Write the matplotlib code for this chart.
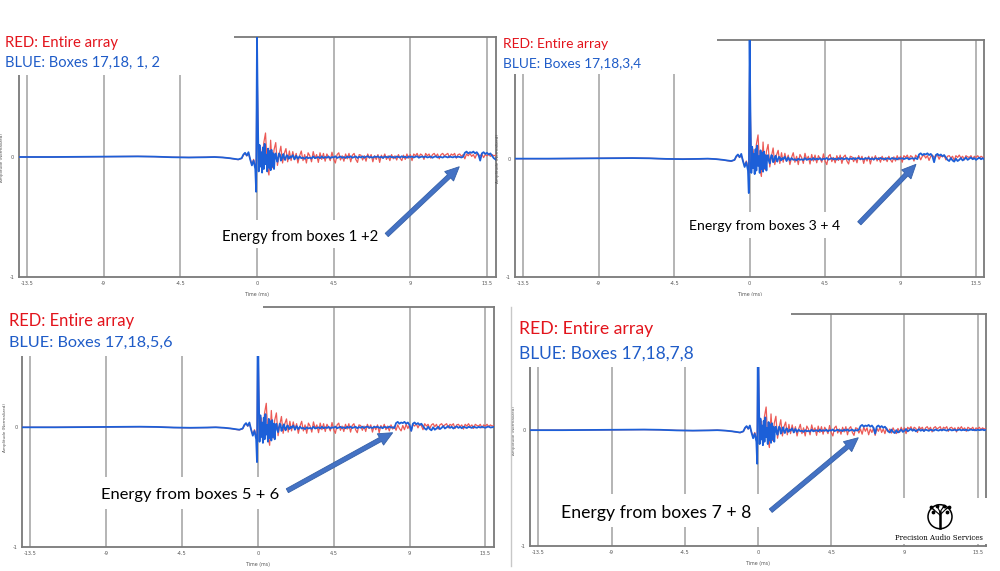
import numpy as np
import matplotlib
matplotlib.use("Agg")
import matplotlib.pyplot as plt
from matplotlib.patches import Rectangle, FancyArrow, Circle

# ---------------- data ----------------
t_pre = [-14.0, -12.0, -10.0, -8.0, -7.0, -6.0, -5.0, -4.0, -3.0, -2.5, -2.0, -1.6,
         -1.3, -1.1, -0.9, -0.8, -0.7, -0.6, -0.5, -0.4, -0.3, -0.2, -0.1, -0.05]
red_pre = [0.0, 0.0, 0.002, 0.004, 0.005, 0.003, -0.002, -0.004, -0.002, 0.0, -0.004, -0.01,
           -0.018, -0.022, -0.012, 0.015, 0.03, 0.01, 0.028, -0.015, -0.06, -0.02, -0.07, -0.12]
blue_pre = [0.0, 0.0, 0.002, 0.004, 0.005, 0.003, -0.002, -0.004, -0.002, 0.0, -0.004, -0.01,
            -0.016, -0.02, -0.01, 0.02, 0.035, 0.012, 0.04, -0.02, -0.07, -0.03, -0.1, -0.29]

# red: 0 .. 2 ms every 0.1 ms
red_early = [0.80, -0.10, 0.08, -0.06, 0.12, 0.20, -0.08, -0.15, 0.14, -0.09,
             0.06, 0.12, -0.07, 0.02, 0.09, -0.05, 0.03, 0.07, -0.04, 0.05, -0.03]
# blue: 0 .. 2 ms every 0.05 ms
blue_early = [1.00, 0.33, -0.12, 0.10, -0.08, 0.04, -0.13, 0.08, -0.10, 0.11,
              -0.06, 0.02, -0.12, 0.07, -0.09, 0.05, -0.11, 0.06, -0.08, 0.03,
              -0.10, 0.02, 0.03, -0.02, -0.04, 0.0, 0.03, 0.02, -0.03, -0.02,
              0.01, 0.025, -0.01, -0.025, 0.0, 0.015, 0.01, -0.015, -0.01, 0.005, -0.005]

# 2.1 .. 14.0 ms, every 0.1 ms
red_late = [0.045, -0.02, 0.03, -0.05, 0.01, 0.05, -0.03, 0.02, -0.05, 0.035,
            0.01, -0.04, 0.045, -0.01, 0.02, -0.045, 0.035, -0.02, 0.03, -0.035,
            0.025, 0.0, -0.03, 0.04, -0.02, -0.05, 0.02, 0.035, -0.025, 0.01,
            -0.035, 0.025, -0.015, 0.03, -0.04, 0.015, 0.03, -0.02, -0.045, 0.02,
            0.015, -0.025, 0.01, -0.035, 0.025, -0.01, 0.02, -0.04, 0.01, -0.02,
            0.02, -0.045, 0.015, -0.01, 0.025, -0.02, 0.01, -0.03, 0.02, -0.015,
            0.01, -0.025, 0.02, -0.01, -0.03, 0.015, -0.02, 0.025, -0.01, 0.02,
            -0.03, 0.025, 0.01, 0.03, -0.005, 0.025, 0.015, -0.02, 0.03, 0.01,
            0.025, -0.01, 0.02, 0.03, 0.005, 0.025, -0.015, 0.02, 0.03, 0.01,
            0.02, 0.03, -0.005, 0.025, 0.015, 0.03, -0.01, 0.02, 0.025, 0.005,
            0.02, -0.015, 0.025, 0.01, 0.03, 0.005, 0.02, -0.01, 0.025, 0.015,
            0.01, 0.025, -0.005, 0.02, 0.01, 0.025, 0.005, 0.02, 0.01, 0.015]
blue_quiet = [0.015, -0.02, 0.01, -0.015, 0.005, -0.01, -0.005, -0.015, 0.0, -0.01,
              -0.005, -0.012, 0.005, -0.01, -0.005, 0.0, -0.01, 0.005, -0.008, 0.0,
              -0.006, 0.004, -0.01, 0.0, -0.004, 0.006, -0.008, -0.002, 0.004, -0.006,
              0.0, -0.008, 0.004, -0.004, 0.006, -0.006, 0.0, 0.005, -0.008, 0.002,
              -0.004, 0.005, -0.006, 0.002, 0.006, -0.004, 0.0, -0.006, 0.004, 0.0,
              0.005, -0.005, 0.002, -0.008, 0.004, 0.0, -0.004, 0.006, -0.002, 0.0,
              -0.006, 0.004, 0.0, -0.004, 0.006, -0.002, 0.002, -0.006, 0.004, 0.0,
              0.004, -0.004, 0.002, 0.006, -0.006, 0.0, 0.004, -0.002, 0.005, -0.004,
              0.0, 0.004, -0.006, 0.002, 0.005, -0.004, 0.002, 0.0, -0.005, 0.004,
              0.002, -0.004, 0.005, 0.0, -0.003, 0.004, -0.002, 0.003, 0.0, -0.004,
              0.002, -0.003, 0.004, 0.0, -0.002]
blue_arrival = [0.035, 0.045, 0.03, 0.04, 0.035, 0.045, 0.03, 0.04, 0.02, -0.03,
                0.03, 0.04, 0.025, 0.035, 0.02, 0.03, 0.01, -0.01, -0.02, 0.005,
                -0.015, -0.025, 0.0, -0.02, -0.01, 0.005, -0.015, -0.005, 0.01, -0.01,
                0.0, 0.01, -0.005, 0.005, -0.01, 0.0, 0.008, -0.005, 0.004, -0.008,
                0.005, 0.0, -0.006, 0.004, 0.0, -0.005, 0.006, 0.0, -0.004, 0.004,
                -0.002, 0.005, 0.0, -0.004, 0.003, 0.006, -0.002, 0.0, 0.004, -0.003,
                0.002, 0.005, -0.002, 0.003, 0.0, 0.004, -0.003, 0.002, 0.005, 0.0,
                0.003, -0.002, 0.004, 0.0, 0.002, 0.005, -0.001, 0.003]
arrival_ms = [12.2, 10.1, 8.2, 6.3]

red_label = "RED: Entire array"
blue_labels = ["BLUE: Boxes 17,18, 1, 2", "BLUE: Boxes 17,18,3,4",
               "BLUE: Boxes 17,18,5,6", "BLUE: Boxes 17,18,7,8"]
energy_labels = ["Energy from boxes 1 +2", "Energy from boxes 3 + 4",
                 "Energy from boxes 5 + 6", "Energy from boxes 7 + 8"]
tick_values = [-13.5, -9, -4.5, 0, 4.5, 9, 13.5]
tick_labels = ["-13.5", "-9", "-4.5", "0", "4.5", "9", "13.5"]

# ---------------- layout (pixels of the 1000x571 picture) ----------------
W, H = 1000, 571
panels = [  # left, right, top, bottom of each plot area
    (18.5, 495.5, 37.0, 277.0),
    (514.9, 984.4, 40.0, 277.3),
    (21.9, 493.8, 307.3, 547.3),
    (530.2, 985.8, 314.3, 546.0),
]
title_boxes = [(0, 0, 234, 74.5), (498, 0, 716.5, 73.5), (0, 296, 263, 355.5), (512, 296, 790.5, 366.5)]
energy_boxes = [(213, 220, 388, 248), (680, 211.5, 850, 237.5), (92, 476.5, 285, 508.5), (552, 494, 765, 527)]
red_pos = [(5, 118, 41.7), (502.7, 608.3, 43.3), (9.3, 134.3, 319.3), (519.3, 652.7, 327.7)]
blue_pos = [(5, 160, 61.7), (502.7, 640.7, 62.3), (9.3, 172.7, 341.7), (519.3, 694, 351.7)]
energy_pos = [(222, 378, 236), (689.3, 840, 225), (100.7, 278.3, 493.3), (560.7, 750.7, 511.7)]
arrows = [((386.7, 235), (459.3, 166.7)), ((859.3, 223.3), (916, 164.3)),
          ((287.3, 490.7), (392.7, 432.7)), ((770.7, 510.7), (858.3, 437.7))]

RED_LINE = "#ec5a56"
BLUE_LINE = "#1c5fd8"
RED_TXT = "#e3141c"
BLUE_TXT = "#1f5cc8"
ARROW = "#4472c4"
SPINE = "#7a7a7a"
GRID = "#a8a8a8"

fig = plt.figure(figsize=(W / 100, H / 100), dpi=100)
fig.patch.set_facecolor("white")

t_red_early = np.round(np.arange(0, 2.0001, 0.1), 2)
t_blue_early = np.round(np.arange(0, 2.0001, 0.05), 2)
t_late = np.round(np.arange(2.1, 14.0001, 0.1), 1)
t_red = np.concatenate([t_pre, t_red_early, t_late])
red_all = np.concatenate([red_pre, red_early, red_late])
t_blue = np.concatenate([t_pre, t_blue_early, t_late])

for i, (l, r, t, b) in enumerate(panels):
    ax = fig.add_axes([l / W, 1 - b / H, (r - l) / W, (b - t) / H])
    n = int(np.searchsorted(t_late, arrival_ms[i] - 1e-9))
    blue_late = blue_quiet[:n] + blue_arrival[:len(t_late) - n]
    blue_all = np.concatenate([blue_pre, blue_early, blue_late])
    ax.plot(t_red, red_all, color=RED_LINE, lw=0.9, zorder=3)
    ax.plot(t_blue, blue_all, color=BLUE_LINE, lw=1.3, zorder=4)
    ax.set_xlim(-14, 14)
    ax.set_ylim(-1, 1)
    ax.set_xticks(tick_values)
    ax.set_xticklabels(tick_labels)
    ax.set_yticks([-1, 0])
    ax.set_yticklabels(["-1", "0"])
    ax.tick_params(length=0, labelsize=3.6, colors="#555555", pad=3)
    ax.grid(axis="x", color=GRID, lw=1.2, zorder=1)
    ax.set_axisbelow(True)
    for s in ax.spines.values():
        s.set_color(SPINE)
        s.set_linewidth(1.3)
    ax.set_xlabel("Time (ms)", fontsize=3.4, color="#555555", labelpad=4)
    ax.set_ylabel("Amplitude (Normalized)", fontsize=3.0, color="#555555", labelpad=4)

# ---------------- overlay (annotations in picture pixels) ----------------
ov = fig.add_axes([0, 0, 1, 1], zorder=10)
ov.set_xlim(0, W)
ov.set_ylim(H, 0)
ov.axis("off")
ov.patch.set_alpha(0)

for (x0, y0, x1, y1) in title_boxes + energy_boxes + [(880, 498, 990, 544)]:
    ov.add_patch(Rectangle((x0, y0), x1 - x0, y1 - y0, facecolor="white", edgecolor="none", zorder=1))

# frame edge of the lower-right screenshot
ov.plot([511, 511], [307, 566], color="#c8c8c8", lw=1.0, zorder=2)

renderer = fig.canvas.get_renderer()


def fitted_text(x0, x1, yc, s, color, family="Lato", **kw):
    txt = ov.text(x0, yc, s, ha="left", va="center_baseline", color=color,
                  family=family, fontsize=10, zorder=5, **kw)
    w = txt.get_window_extent(renderer).width
    txt.set_fontsize(10 * (x1 - x0) / w)
    return txt


for i in range(4):
    fitted_text(*red_pos[i], red_label, RED_TXT)
    fitted_text(*blue_pos[i], blue_labels[i], BLUE_TXT)
    fitted_text(*energy_pos[i], energy_labels[i], "black")
    (xa, ya), (xb, yb) = arrows[i]
    ov.add_patch(FancyArrow(xa, ya, xb - xa, yb - ya, width=4.5, head_width=13,
                            head_length=14, length_includes_head=True,
                            facecolor=ARROW, edgecolor="#3560a8", lw=0.6, zorder=6))

# logo: circled tree
ov.add_patch(Circle((940, 516.7), 12, facecolor="none", edgecolor="black", lw=1.1, zorder=6))
ov.plot([940, 940], [527.5, 512], color="black", lw=1.8, zorder=7)
branch_lines = [(940, 515, 933, 509), (940, 515, 947, 508), (940, 512, 937, 506),
                (940, 512, 944, 506), (934, 510, 931, 507), (946, 509, 949, 507)]
for (xa, ya, xb, yb) in branch_lines:
    ov.plot([xa, xb], [ya, yb], color="black", lw=0.8, zorder=7)
ov.scatter([931, 949, 937, 944, 933, 947], [507, 507, 505.5, 505.5, 512, 511.5],
           s=3, color="black", zorder=7)
fitted_text(895, 982.7, 537.5, "Precision Audio Services", "black",
            family="DejaVu Serif", fontstretch="condensed")

fig.savefig("out.png", dpi=100, facecolor="white")
